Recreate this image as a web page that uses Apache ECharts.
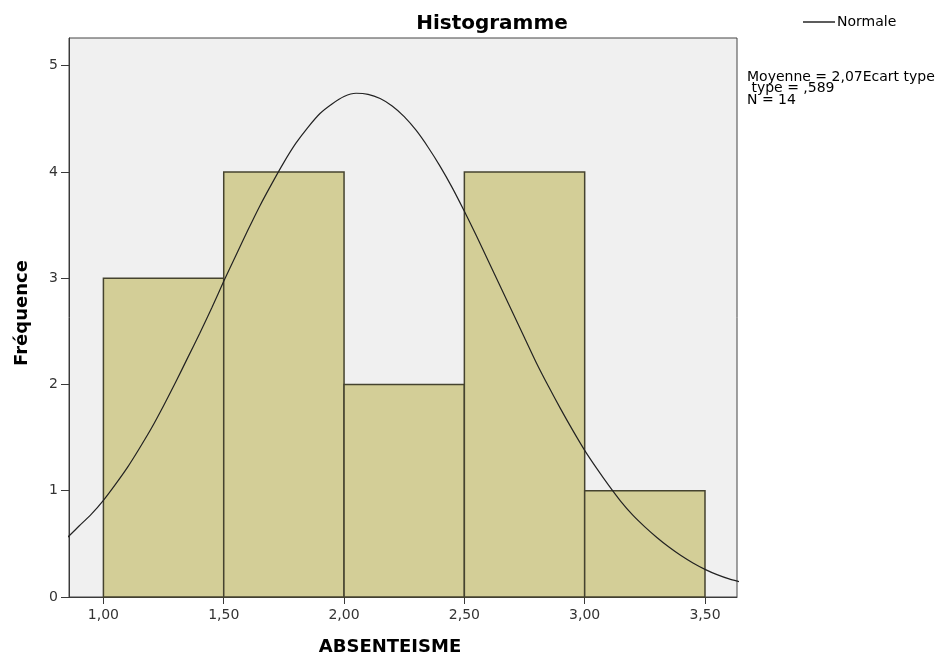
<!DOCTYPE html>
<html><head><meta charset="utf-8">
<script src="https://cdn.jsdelivr.net/npm/echarts@6/dist/echarts.min.js"></script>
<style>html,body{margin:0;padding:0;background:#fff}#c{width:951px;height:657px}</style>
</head><body><div id="c"></div>
<script>
// Histogram bins (lower edge, upper edge) and counts
const binStart = [1.0, 1.5, 2.0, 2.5, 3.0];
const binEnd   = [1.5, 2.0, 2.5, 3.0, 3.5];
const counts   = [3, 4, 2, 4, 1];
// Normal curve (extends slightly past the plot edges, clipped by the grid)
const curveX = [0.80, 0.85, 0.90, 0.95, 1.00, 1.05, 1.10, 1.15, 1.20, 1.25, 1.30, 1.35, 1.40, 1.45, 1.50, 1.55, 1.60, 1.65, 1.70, 1.75,
                1.80, 1.85, 1.90, 1.95, 2.00, 2.05, 2.10, 2.15, 2.20, 2.25, 2.30, 2.35, 2.40, 2.45, 2.50, 2.55, 2.60, 2.65, 2.70, 2.75,
                2.80, 2.85, 2.90, 2.95, 3.00, 3.05, 3.10, 3.15, 3.20, 3.25, 3.30, 3.35, 3.40, 3.45, 3.50, 3.55, 3.60, 3.65, 3.70];
const curveY = [0.47, 0.56, 0.67, 0.78, 0.91, 1.06, 1.22, 1.40, 1.59, 1.80, 2.02, 2.25, 2.48, 2.72, 2.97, 3.21, 3.45, 3.68, 3.89, 4.09,
                4.27, 4.42, 4.55, 4.64, 4.71, 4.74, 4.73, 4.69, 4.62, 4.52, 4.39, 4.23, 4.05, 3.85, 3.63, 3.40, 3.16, 2.92, 2.68, 2.44,
                2.20, 1.98, 1.77, 1.57, 1.38, 1.21, 1.05, 0.90, 0.77, 0.66, 0.56, 0.47, 0.39, 0.32, 0.26, 0.21, 0.17, 0.14, 0.11];
const xTicks = [1.0, 1.5, 2.0, 2.5, 3.0, 3.5];
const yTicks = [0, 1, 2, 3, 4, 5];
const statsLines = ['Moyenne = 2,07Ecart type', ' type = ,589', 'N = 14'];

const chart = echarts.init(document.getElementById('c'), null, {renderer: 'canvas'});
const font = '"DejaVu Sans", sans-serif';
const fmt = v => v.toFixed(2).replace('.', ',');

chart.setOption({
  animation: false,
  backgroundColor: '#ffffff',
  title: {
    text: 'Histogramme', left: 487, top: 9, textAlign: 'center',
    textStyle: {fontFamily: font, fontSize: 20, fontWeight: 'bold', color: '#000'}
  },
  legend: {
    left: 798, top: 10, itemWidth: 32, itemHeight: 8, itemGap: 2,
    data: [{name: 'Normale', icon: 'path://M0,0 L32,0 L32,1.6 L0,1.6 Z', itemStyle: {color: '#333'}}],
    textStyle: {fontFamily: font, fontSize: 14, color: '#000', padding: [0,0,0,-3]}
  },
  grid: {
    left: 69, right: 214, top: 38, bottom: 60, show: true,
    backgroundColor: '#f0f0f0', borderColor: '#444444', borderWidth: 1
  },
  xAxis: {
    type: 'value', min: 0.857, max: 3.633,
    axisLine: {show: true, lineStyle: {color: '#3a3a3a'}},
    splitLine: {show: false},
    axisTick: {show: true, inside: false, length: 7, customValues: xTicks, lineStyle: {color: '#3a3a3a'}},
    axisLabel: {customValues: xTicks, formatter: fmt, margin: 11, fontFamily: font, fontSize: 14, color: '#333'}
  },
  yAxis: {
    type: 'value', min: 0, max: 5.26,
    axisLine: {show: true, lineStyle: {color: '#3a3a3a'}},
    splitLine: {show: false},
    axisTick: {show: true, length: 8, customValues: yTicks, lineStyle: {color: '#3a3a3a'}},
    axisLabel: {customValues: yTicks, margin: 11, fontFamily: font, fontSize: 14, color: '#333'}
  },
  graphic: [
    {type: 'text', left: 747, top: 70, style: {text: statsLines.join('\n'), font: '14px ' + font, fill: '#000', lineHeight: 11.5}},
    {type: 'text', x: 22, y: 313, rotation: Math.PI / 2, style: {text: 'Fréquence', font: 'bold 18px ' + font, fill: '#000', align: 'center', verticalAlign: 'middle'}},
    {type: 'text', x: 390, y: 647, style: {text: 'ABSENTEISME', font: 'bold 18px ' + font, fill: '#000', align: 'center', verticalAlign: 'middle'}}
  ],
  series: [
    {
      name: 'Histogramme', type: 'custom',
      data: counts.map((c, i) => [binStart[i], binEnd[i], c]),
      encode: {x: [0, 1], y: 2},
      renderItem: function (params, api) {
        const p0 = api.coord([api.value(0), api.value(2)]);
        const p1 = api.coord([api.value(1), 0]);
        return {
          type: 'rect',
          shape: {x: p0[0], y: p0[1], width: p1[0] - p0[0], height: p1[1] - p0[1]},
          style: {fill: '#d3ce97', stroke: '#45432f', lineWidth: 1.5}
        };
      },
      z: 2
    },
    {
      name: 'Normale', type: 'line', smooth: 0.3, symbol: 'none', clip: true,
      data: curveX.map((x, i) => [x, curveY[i]]),
      lineStyle: {color: '#222', width: 1.2},
      itemStyle: {color: '#222'},
      z: 3
    }
  ]
});
</script></body></html>
